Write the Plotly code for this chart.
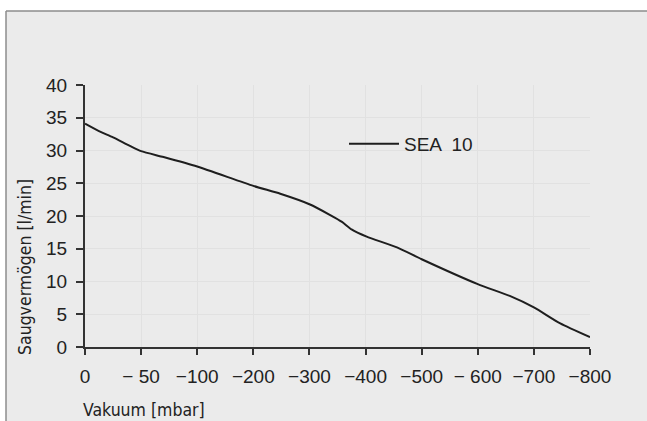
import numpy as np
import plotly.graph_objects as go

# Tick values of the (non-linear, evenly spaced) vacuum axis
tick_values = [0, -50, -100, -200, -300, -400, -500, -600, -700, -800]
tick_labels = ["0", "\u2212 50", "\u2212100", "\u2212200", "\u2212300", "\u2212400",
               "\u2212500", "\u2212 600", "\u2212700", "\u2212800"]

# Curve "SEA 10": vacuum [mbar] -> suction capacity [l/min]
vacuum = [0, -12, -25, -40, -50, -70, -100, -200, -248, -300, -337, -358, -375,
          -402, -456, -500, -600, -657, -700, -747, -800]
flow = [34.1, 33.0, 32.0, 30.7, 29.9, 29.0, 27.55, 24.6, 23.4, 21.8, 20.15, 19.1, 17.95,
        16.85, 15.2, 13.4, 9.6, 7.8, 6.05, 3.6, 1.5]

series_name = "SEA  10"
y_ticks = [0, 5, 10, 15, 20, 25, 30, 35, 40]

# position on the evenly spaced axis (piecewise linear between ticks)
tick_pos = list(range(len(tick_values)))
xpos = np.interp(-np.array(vacuum), -np.array(tick_values), tick_pos)

fig = go.Figure()
fig.add_trace(go.Scatter(
    x=xpos, y=flow, mode="lines", name=series_name,
    line=dict(color="#1e1e1e", width=2, shape="spline", smoothing=0.6),
    cliponaxis=False,
))

W, H = 647, 421
L, R, T, B = 85, 57, 85, 74
pw, ph = W - L - R, H - T - B

def px_x(p):
    return (p - L) / pw

def px_y(p):
    return (H - B - p) / ph

font_main = "Liberation Sans, Arial, sans-serif"
font_cond = "DejaVu Sans Condensed, Liberation Sans Narrow, sans-serif"

frame = "#8c8c8c"
shapes = [
    # white strips outside the grey frame (top and left)
    dict(type="rect", xref="paper", yref="paper", x0=px_x(-20), x1=px_x(700),
         y0=px_y(11), y1=px_y(-20), fillcolor="white", line=dict(width=0), layer="below"),
    dict(type="rect", xref="paper", yref="paper", x0=px_x(-20), x1=px_x(6),
         y0=px_y(460), y1=px_y(11), fillcolor="white", line=dict(width=0), layer="below"),
    # frame lines
    dict(type="line", xref="paper", yref="paper", x0=px_x(6), x1=px_x(700),
         y0=px_y(11), y1=px_y(11), line=dict(color=frame, width=1.5), layer="below"),
    dict(type="line", xref="paper", yref="paper", x0=px_x(6), x1=px_x(6),
         y0=px_y(11), y1=px_y(460), line=dict(color=frame, width=1.5), layer="below"),
]

fig.update_layout(
    width=W, height=H,
    margin=dict(l=L, r=R, t=T, b=B),
    paper_bgcolor="#ebebeb",
    plot_bgcolor="rgba(0,0,0,0)",
    font=dict(family=font_main, size=19, color="#222"),
    showlegend=True,
    legend=dict(x=px_x(344), y=px_y(144), xanchor="left", yanchor="middle",
                bgcolor="rgba(0,0,0,0)", font=dict(size=19, color="#222"),
                itemwidth=50),
    xaxis=dict(range=[0, len(tick_values) - 1], tickmode="array",
               tickvals=tick_pos, ticktext=tick_labels,
               showline=True, linecolor="#333", linewidth=2,
               ticks="outside", ticklen=6, tickwidth=2, tickcolor="#333",
               showgrid=True, gridcolor="#e1e1e1", gridwidth=1,
               zeroline=False, fixedrange=True, ticklabelstandoff=5),
    yaxis=dict(range=[0, 40], tickmode="array", tickvals=y_ticks,
               showline=True, linecolor="#333", linewidth=2,
               ticks="outside", ticklen=7, tickwidth=2, tickcolor="#333",
               showgrid=True, gridcolor="#e1e1e1", gridwidth=1,
               zeroline=False, fixedrange=True, ticklabelstandoff=5),
    shapes=shapes,
    annotations=[
        dict(text="Saugvermögen [l/min]", xref="paper", yref="paper",
             x=px_x(25), y=px_y(267), textangle=-90, showarrow=False,
             xanchor="center", yanchor="middle",
             font=dict(family=font_cond, size=17.5, color="#222")),
        dict(text="Vakuum [mbar]", xref="paper", yref="paper",
             x=px_x(81), y=px_y(410), showarrow=False,
             xanchor="left", yanchor="middle",
             font=dict(family=font_cond, size=17.5, color="#222")),
    ],
)

fig.write_html(
    "out.html",
    config={"displayModeBar": False, "staticPlot": True},
    post_script=("document.body.style.margin='0';"
                 "document.body.style.overflow='hidden';"
                 "document.documentElement.style.overflow='hidden';"
                 "document.documentElement.style.background='#ebebeb';"),
)
